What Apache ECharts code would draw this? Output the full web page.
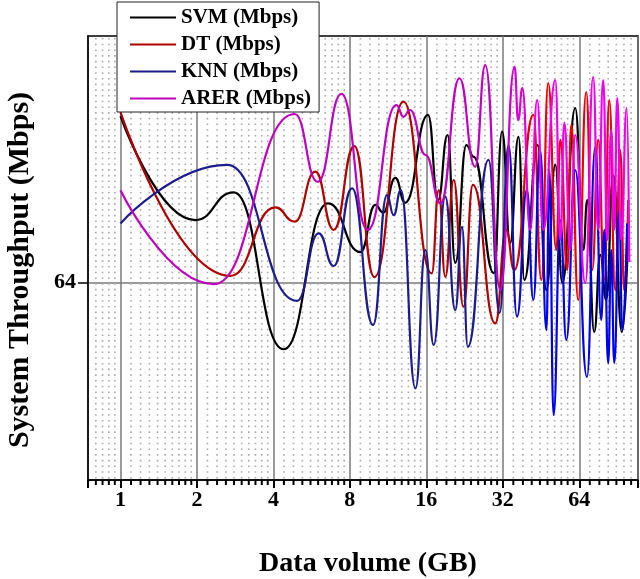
<!DOCTYPE html>
<html><head><meta charset="utf-8">
<script src="https://cdn.jsdelivr.net/npm/echarts@6/dist/echarts.min.js"></script>
<style>html,body{margin:0;padding:0;background:#fff}#c{width:640px;height:579px}</style>
</head><body><div id="c"></div>
<script>
const seriesNames = ['SVM (Mbps)', 'DT (Mbps)', 'KNN (Mbps)', 'ARER (Mbps)'];
const xTickLabels = [1, 2, 4, 8, 16, 32, 64];
const yTickLabels = [64];
const minorTicks = [0.8, 0.85, 0.9, 0.95,
  1.1, 1.2, 1.3, 1.4, 1.5, 1.6, 1.7, 1.8, 1.9,
  2.2, 2.4, 2.6, 2.8, 3.0, 3.2, 3.4, 3.6, 3.8,
  4.4, 4.8, 5.2, 5.6, 6.0, 6.4, 6.8, 7.2, 7.6,
  8.8, 9.6, 10.4, 11.2, 12, 12.8, 13.6, 14.4, 15.2,
  17.6, 19.2, 20.8, 22.4, 24, 25.6, 27.2, 28.8, 30.4,
  35.2, 38.4, 41.6, 44.8, 48, 51.2, 54.4, 57.6, 60.8,
  70.4, 76.8, 83.2, 89.6, 96, 102.4];

const svm = [[1, 118.0], [1.97, 84.3], [2.79, 93.3], [4.39, 42.4], [6.57, 89.7], [8.8, 73.9],
  [10.08, 89.2], [10.82, 86.7], [12.08, 98.0], [13.2, 89.9], [16.25, 118.4], [17.8, 90.8],
  [19.4, 111.9], [20.8, 70.4], [23.0, 108.6], [24.6, 104.8], [29.5, 67.1], [31.8, 113.0],
  [34.2, 76.9], [36.9, 111.3], [38.9, 64.9], [43.9, 108.6], [47.5, 61.6], [51.5, 102.2],
  [54.9, 63.9], [61.7, 120.6], [66.4, 74.6], [68.8, 90.8], [73.3, 48.0], [77.4, 73.0],
  [81.7, 58.4], [87.1, 98.9], [94.1, 48.0], [99.8, 80.4]];

const dt = [[1, 119.3], [2.71, 66.2], [4.07, 88.4], [4.85, 83.8], [5.85, 100.0], [6.91, 81.1],
  [8.33, 108.3], [9.99, 65.8], [13.0, 122.7], [16.8, 67.0], [17.9, 94.0], [19.0, 65.9],
  [20.5, 97.3], [22.4, 56.2], [24.4, 95.7], [29.9, 50.8], [33.0, 81.1], [35.5, 68.1],
  [42.2, 118.4], [45.4, 64.9], [48.3, 128.7], [52.0, 74.6], [53.9, 110.3], [57.4, 68.1],
  [59.5, 115.1], [63.4, 58.4], [68.2, 125.8], [72.0, 68.1], [76.0, 110.3], [80.3, 64.9],
  [84.0, 123.2], [88.7, 61.6], [92.8, 107.0], [96.2, 61.6], [99.8, 90.8]];

const knn = [[1, 83.2], [2.63, 102.2], [4.96, 58.1], [6.03, 80.0], [6.91, 69.4], [8.16, 94.6],
  [9.87, 50.3], [11.2, 92.4], [11.9, 85.9], [12.7, 94.0], [14.5, 29.7], [15.86, 74.6],
  [17.1, 43.8], [19.0, 91.9], [20.8, 55.1], [22.1, 82.1], [23.3, 43.2], [28.1, 103.8],
  [31.1, 54.2], [33.7, 108.6], [36.4, 53.0], [39.8, 94.0], [42.2, 58.4], [44.9, 107.0],
  [47.5, 48.6], [48.8, 100.5], [50.7, 21.1], [53.9, 84.3], [56.9, 45.4], [61.7, 100.5],
  [68.6, 33.4], [74.0, 108.0], [78.1, 51.9], [80.3, 81.1], [83.2, 37.9], [85.5, 74.6],
  [87.9, 38.0], [92.0, 87.6], [94.5, 48.6], [98.8, 83.3]];

const arer = [[1, 94.0], [2.33, 63.5], [4.85, 118.7], [5.98, 96.7], [7.41, 125.2], [9.4, 81.1],
  [12.2, 121.6], [13.0, 117.8], [13.8, 120.0], [15.9, 105.4], [18.2, 89.7], [21.6, 130.3],
  [24.9, 101.6], [27.3, 134.6], [31.3, 61.6], [35.6, 134.0], [36.8, 116.7], [38.2, 127.1],
  [41.0, 81.1], [43.7, 123.2], [46.2, 81.1], [51.5, 129.7], [53.9, 77.9], [55.9, 115.8],
  [59.0, 74.6], [61.7, 111.9], [67.6, 63.9], [72.6, 130.7], [76.0, 81.1], [79.5, 129.7],
  [82.5, 77.9], [85.5, 113.5], [87.9, 81.1], [90.3, 123.9], [93.6, 77.9], [98.4, 120.6],
  [100.7, 70.7]];

const seriesData = [svm, dt, knn, arer];
const solidColors = ['#000000', '#b00000', '#1c1c8e', '#c000c0'];
const brightColors = ['#000000', '#f00000', '#0000ee', '#f000f0'];

const FONT = '"Liberation Serif", "Times New Roman", serif';
const chart = echarts.init(document.getElementById('c'), null, {renderer: 'canvas'});

function grad(i) {
  return {type: 'linear', x: 0, y: 0, x2: 1, y2: 0, colorStops: [
    {offset: 0, color: solidColors[i]}, {offset: 0.74, color: solidColors[i]},
    {offset: 0.82, color: brightColors[i]}, {offset: 1, color: brightColors[i]}]};
}

const lineSeries = seriesNames.map((n, i) => ({
  name: n, type: 'line', data: seriesData[i], showSymbol: false, symbol: 'none',
  smooth: 0.5, smoothMonotone: 'x', z: 3 + i,
  itemStyle: {color: solidColors[i]},
  lineStyle: {width: 2.2, color: grad(i)}
}));

const minorSeries = {
  type: 'custom', silent: true, z: 1,
  data: minorTicks.map(v => [v]),
  encode: {x: 0},
  renderItem: function (params, api) {
    const cs = params.coordSys;
    const x = api.coord([api.value(0), 0])[0];
    const bottom = cs.y + cs.height;
    return {type: 'group', children: [
      {type: 'line', shape: {x1: x, y1: cs.y + 2, x2: x, y2: bottom}, style: {stroke: '#aaaaaa', lineWidth: 1.6, lineDash: [1.6, 4.1]}},
      {type: 'line', shape: {x1: x, y1: bottom, x2: x, y2: bottom + 5}, style: {stroke: '#000', lineWidth: 2}}
    ]};
  }
};

chart.setOption({
  animation: false,
  backgroundColor: '#fff',
  grid: {left: 88, right: 2, top: 36, bottom: 99, containLabel: false, outerBoundsMode: 'none',
    show: true, borderColor: '#000', borderWidth: 1.5, backgroundColor: 'transparent'},
  legend: {
    data: seriesNames.map((n, i) => ({name: n, itemStyle: {color: solidColors[i]}})),
    orient: 'vertical', left: 117, top: 2, icon: 'rect', itemWidth: 46, itemHeight: 2, itemGap: 6,
    padding: [5, 8, 3, 13], backgroundColor: '#fff', borderColor: '#222', borderWidth: 1,
    textStyle: {fontFamily: FONT, fontWeight: 'bold', fontSize: 21, color: '#000', lineHeight: 21},
    z: 10
  },
  xAxis: {
    type: 'log', logBase: 2, min: 0.745, max: 109,
    name: 'Data volume (GB)', nameLocation: 'middle', nameGap: 70,
    nameTextStyle: {fontFamily: FONT, fontWeight: 'bold', fontSize: 28, color: '#000', padding: [0, 0, 0, 10]},
    axisLine: {show: true, lineStyle: {color: '#000', width: 1.5}},
    axisTick: {show: true, length: 8, lineStyle: {color: '#000', width: 2}},
    axisLabel: {
      margin: 9, fontFamily: FONT, fontWeight: 'bold', fontSize: 22, color: '#000',
      formatter: function (v) {
        for (const t of xTickLabels) { if (Math.abs(v - t) < 1e-6 * t) return String(t); }
        return '';
      }
    },
    splitLine: {show: true, lineStyle: {color: '#7a7a7a', width: 1.5}},
    minorTick: {show: false}
  },
  yAxis: {
    type: 'value', min: 0, max: 144,
    name: 'System Throughput (Mbps)', nameLocation: 'middle', nameGap: 53,
    nameTextStyle: {fontFamily: FONT, fontWeight: 'bold', fontSize: 30, color: '#000', padding: [0, 24, 0, 0]},
    axisLine: {show: true, lineStyle: {color: '#000', width: 1.5}},
    axisTick: {show: true, customValues: yTickLabels, length: 10, lineStyle: {color: '#000', width: 1.5}},
    axisLabel: {show: true, customValues: yTickLabels, margin: 12, fontFamily: FONT, fontWeight: 'bold', fontSize: 22, color: '#000'},
    splitLine: {show: true, lineStyle: {color: '#7a7a7a', width: 1.5}}
  },
  series: [minorSeries].concat(lineSeries)
});
</script>
</body></html>
